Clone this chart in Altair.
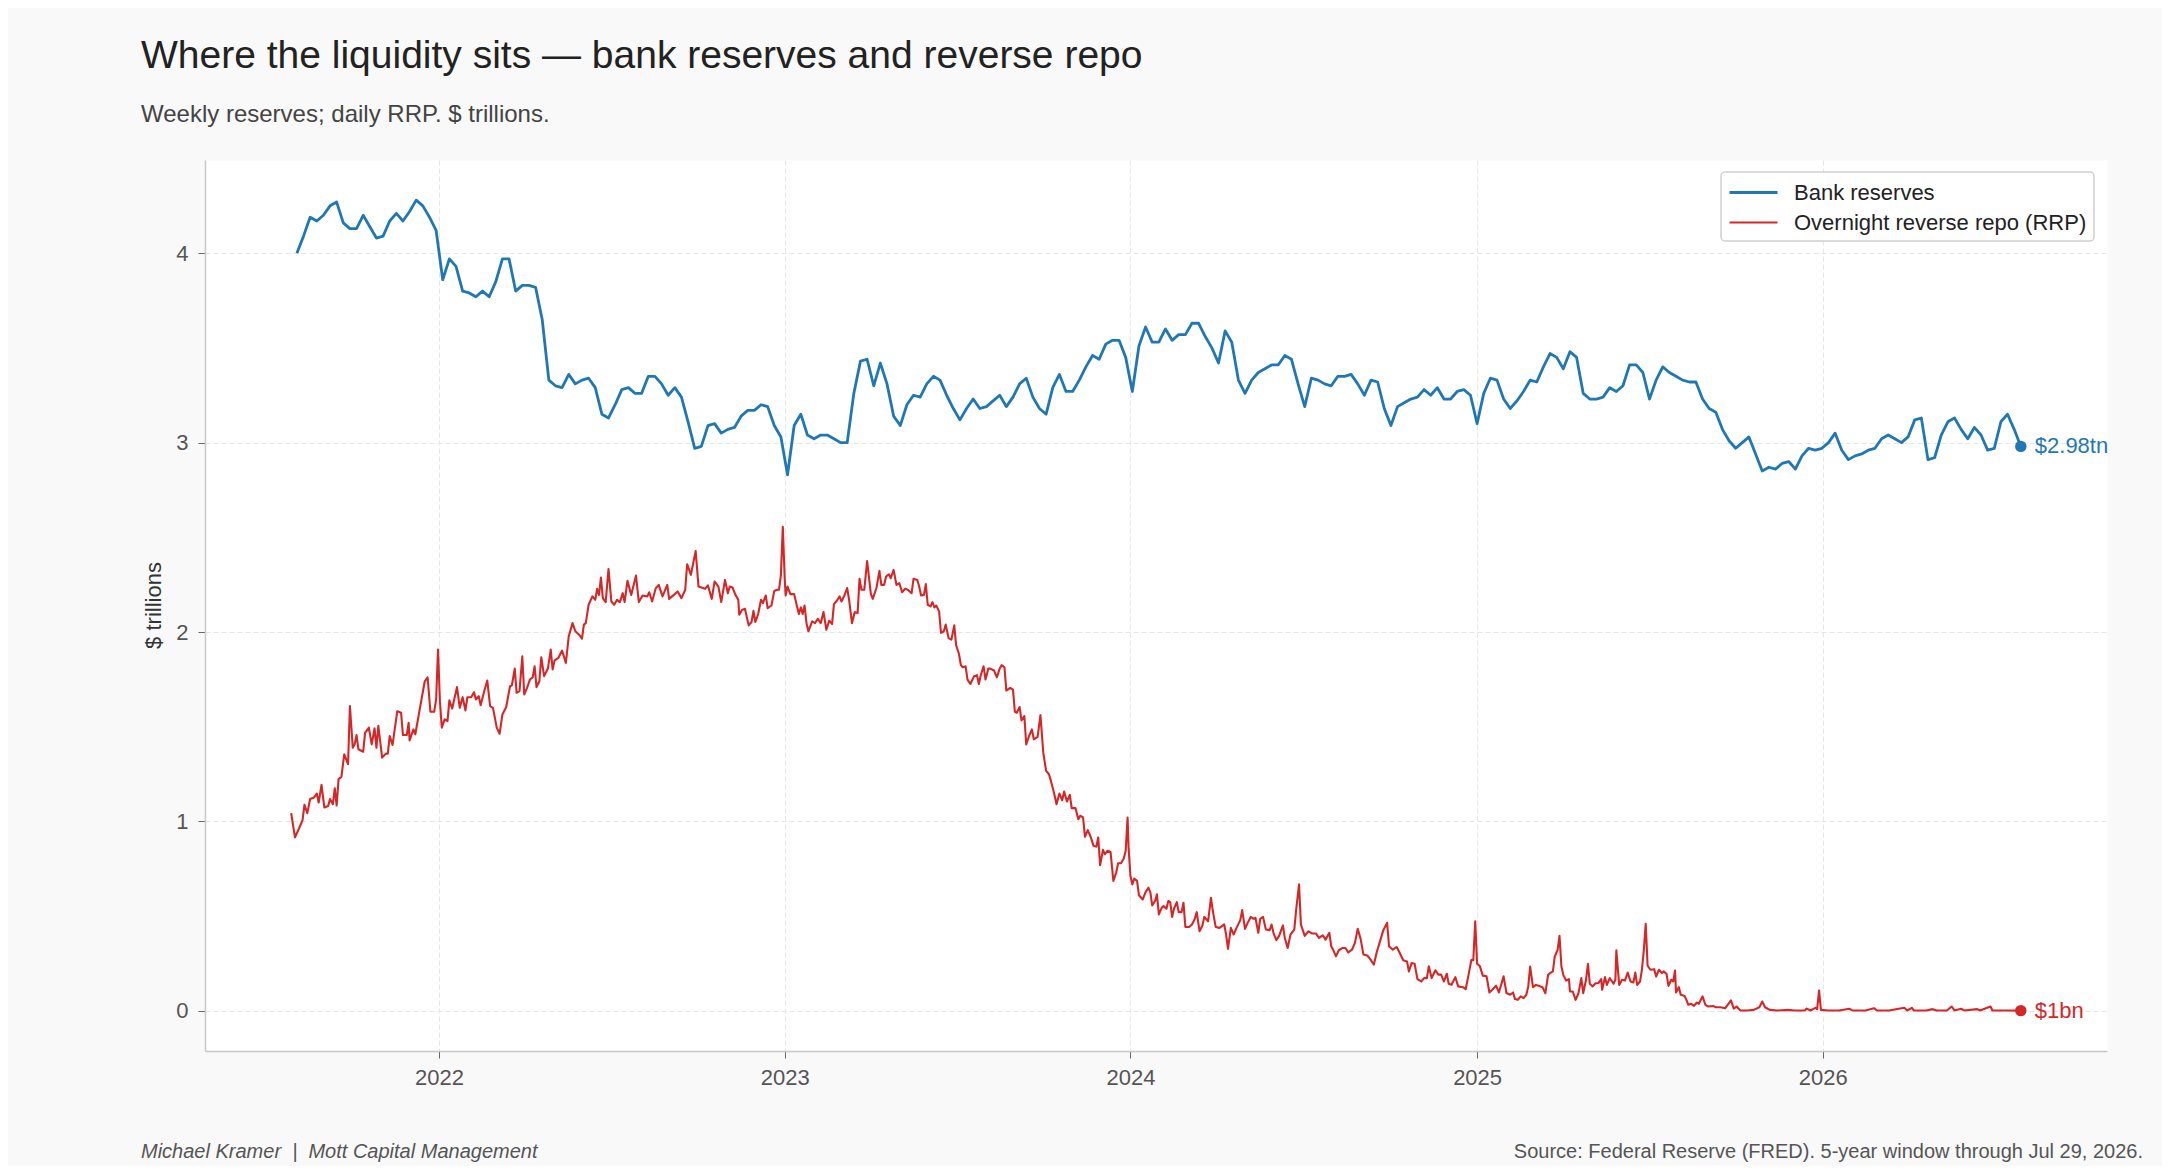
import altair as alt
import pandas as pd

FONT = "Liberation Sans"

TITLE = "Where the liquidity sits \u2014 bank reserves and reverse repo"
SUBTITLE = "Weekly reserves; daily RRP. $ trillions."
FOOT_LEFT = "Michael Kramer\u00a0\u00a0|\u00a0\u00a0Mott Capital Management"
FOOT_RIGHT = "Source: Federal Reserve (FRED). 5-year window through Jul 29, 2026."
Y_TITLE = "$ trillions"

series_names = ["Bank reserves", "Overnight reverse repo (RRP)"]
series_colors = ["#1f77b4", "#d62728"]
end_labels = ["$2.98tn", "$1bn"]
y_ticks = [0, 1, 2, 3, 4]
x_years = [2022, 2023, 2024, 2025, 2026]

# Weekly bank reserves ($tn), Wednesdays starting 2021-08-04
reserves_start = "2021-08-04"
reserves = [
    4.00, 4.09, 4.19, 4.17, 4.20, 4.25, 4.27, 4.16, 4.13, 4.13,
    4.20, 4.14, 4.08, 4.09, 4.17, 4.21, 4.17, 4.22, 4.28, 4.25,
    4.19, 4.12, 3.86, 3.97, 3.93, 3.80, 3.79, 3.77, 3.80, 3.77,
    3.85, 3.97, 3.97, 3.80, 3.83, 3.83, 3.82, 3.65, 3.33, 3.30,
    3.29, 3.36, 3.31, 3.33, 3.34, 3.29, 3.15, 3.13, 3.20, 3.28,
    3.29, 3.26, 3.26, 3.35, 3.35, 3.31, 3.25, 3.29, 3.24, 3.11,
    2.97, 2.98, 3.09, 3.10, 3.05, 3.07, 3.08, 3.14, 3.17, 3.17,
    3.20, 3.19, 3.09, 3.03, 2.83, 3.09, 3.15, 3.04, 3.02, 3.04,
    3.04, 3.02, 3.00, 3.00, 3.26, 3.43, 3.44, 3.30, 3.42, 3.31,
    3.14, 3.09, 3.20, 3.25, 3.24, 3.31, 3.35, 3.33, 3.25, 3.18,
    3.12, 3.18, 3.23, 3.18, 3.19, 3.22, 3.25, 3.19, 3.24, 3.31,
    3.34, 3.24, 3.18, 3.15, 3.29, 3.36, 3.27, 3.27, 3.33, 3.40,
    3.46, 3.44, 3.52, 3.54, 3.54, 3.45, 3.27, 3.51, 3.61, 3.53,
    3.53, 3.60, 3.54, 3.57, 3.57, 3.63, 3.63, 3.56, 3.50, 3.42,
    3.59, 3.53, 3.33, 3.26, 3.33, 3.37, 3.39, 3.41, 3.41, 3.46,
    3.44, 3.31, 3.19, 3.34, 3.33, 3.31, 3.30, 3.35, 3.35, 3.36,
    3.31, 3.25, 3.33, 3.32, 3.18, 3.09, 3.19, 3.21, 3.23, 3.24,
    3.28, 3.25, 3.29, 3.23, 3.23, 3.27, 3.28, 3.25, 3.10, 3.26,
    3.34, 3.33, 3.23, 3.18, 3.22, 3.27, 3.33, 3.32, 3.40, 3.47,
    3.45, 3.39, 3.48, 3.45, 3.26, 3.23, 3.23, 3.24, 3.29, 3.27,
    3.30, 3.41, 3.41, 3.37, 3.23, 3.33, 3.40, 3.37, 3.35, 3.33,
    3.32, 3.32, 3.23, 3.18, 3.16, 3.07, 3.01, 2.97, 3.00, 3.03,
    2.94, 2.85, 2.87, 2.86, 2.89, 2.90, 2.86, 2.93, 2.97, 2.96,
    2.97, 3.00, 3.05, 2.96, 2.91, 2.93, 2.94, 2.96, 2.97, 3.02,
    3.04, 3.02, 3.00, 3.03, 3.12, 3.13, 2.91, 2.92, 3.04, 3.11,
    3.13, 3.07, 3.02, 3.08, 3.04, 2.96, 2.97, 3.11, 3.15, 3.07,
    2.98,
]

# Overnight reverse repo ($tn): day offset from 2022-01-01 and value
rrp_base = "2022-01-01"
rrp_day = [
    -156, -152, -148, -144, -142, -139, -136, -132, -129, -127,
    -124, -121, -117, -115, -112, -110, -108, -106, -103, -100,
    -96, -94, -91, -89, -87, -85, -80, -78, -74, -71,
    -68, -66, -64, -60, -56, -54, -52, -49, -44, -40,
    -38, -34, -32, -31, -27, -25, -20, -15, -12, -9,
    -5, -3, -1, 1, 3, 6, 9, 11, 14, 19,
    22, 25, 28, 30, 34, 37, 39, 42, 44, 48,
    51, 54, 57, 61, 64, 67, 71, 75, 77, 80,
    82, 85, 88, 90, 93, 96, 99, 101, 103, 106,
    108, 111, 115, 118, 120, 122, 126, 130, 134, 137,
    141, 144, 148, 151, 153, 155, 158, 162, 165, 167,
    169, 171, 173, 176, 179, 182, 185, 188, 191, 194,
    196, 199, 203, 208, 211, 215, 220, 222, 225, 229,
    232, 236, 241, 243, 248, 252, 256, 260, 262, 266,
    271, 274, 281, 284, 288, 291, 295, 298, 302, 305,
    307, 310, 313, 316, 317, 320, 323, 327, 330, 332,
    334, 337, 340, 342, 345, 347, 351, 354, 357, 359,
    361, 363, 365, 366, 368, 371, 375, 378, 380, 382,
    384, 386, 388, 390, 394, 397, 400, 403, 406, 409,
    412, 415, 417, 420, 423, 425, 428, 431, 433, 436,
    439, 442, 444, 446, 449, 452, 456, 458, 462, 465,
    467, 470, 472, 475, 477, 480, 483, 486, 489, 492,
    495, 499, 501, 505, 507, 509, 512, 514, 516, 519,
    521, 523, 525, 528, 530, 533, 535, 538, 541, 544,
    546, 549, 551, 553, 556, 558, 561, 565, 568, 570,
    572, 575, 577, 580, 582, 586, 589, 592, 594, 597,
    599, 603, 606, 608, 610, 613, 615, 618, 620, 623,
    626, 628, 632, 635, 638, 641, 644, 646, 649, 652,
    655, 658, 660, 663, 666, 668, 672, 675, 677, 680,
    682, 685, 688, 691, 694, 696, 698, 701, 703, 706,
    709, 712, 715, 717, 720, 723, 725, 727, 728, 730,
    732, 734, 737, 739, 743, 746, 749, 751, 753, 756,
    758, 760, 763, 765, 768, 770, 772, 774, 776, 779,
    781, 784, 786, 788, 792, 795, 798, 800, 803, 806,
    808, 812, 815, 817, 820, 824, 829, 831, 833, 836,
    839, 842, 846, 848, 851, 854, 857, 860, 862, 865,
    867, 870, 873, 877, 879, 881, 884, 887, 891, 893,
    896, 899, 903, 905, 908, 910, 914, 918, 922, 926,
    929, 933, 936, 940, 942, 944, 947, 950, 954, 957,
    960, 964, 967, 970, 973, 976, 980, 983, 987, 990,
    993, 997, 1001, 1003, 1007, 1011, 1014, 1018, 1022, 1024,
    1027, 1030, 1033, 1037, 1040, 1043, 1045, 1048, 1052, 1055,
    1058, 1061, 1064, 1066, 1069, 1073, 1076, 1081, 1084, 1087,
    1090, 1092, 1094, 1096, 1099, 1102, 1106, 1109, 1112, 1116,
    1119, 1124, 1127, 1131, 1134, 1136, 1139, 1142, 1145, 1148,
    1150, 1152, 1155, 1158, 1161, 1165, 1168, 1171, 1173, 1176,
    1178, 1181, 1183, 1185, 1187, 1190, 1193, 1194, 1197, 1200,
    1203, 1206, 1208, 1211, 1213, 1215, 1218, 1221, 1224, 1227,
    1228, 1231, 1233, 1236, 1240, 1242, 1243, 1246, 1249, 1252,
    1255, 1258, 1261, 1263, 1265, 1268, 1270, 1272, 1274, 1276,
    1279, 1283, 1285, 1288, 1291, 1293, 1296, 1298, 1301, 1303,
    1305, 1306, 1309, 1311, 1315, 1317, 1319, 1322, 1325, 1328,
    1330, 1334, 1337, 1340, 1345, 1348, 1353, 1358, 1364, 1367,
    1370, 1374, 1381, 1388, 1394, 1397, 1400, 1405, 1413, 1424,
    1431, 1442, 1444, 1448, 1453, 1455, 1457, 1459, 1467, 1478,
    1489, 1492, 1506, 1515, 1518, 1531, 1547, 1550, 1555, 1557,
    1570, 1577, 1581, 1592, 1597, 1600, 1607, 1610, 1624, 1627,
    1638, 1640, 1656, 1670,
]
rrp_val = [
    1.044, 0.916, 0.960, 1.007, 1.088, 1.044, 1.118, 1.126, 1.147, 1.100,
    1.193, 1.074, 1.081, 1.118, 1.091, 1.175, 1.084, 1.223, 1.235, 1.354,
    1.302, 1.609, 1.389, 1.407, 1.456, 1.381, 1.368, 1.467, 1.495, 1.407,
    1.491, 1.389, 1.505, 1.337, 1.358, 1.358, 1.451, 1.404, 1.582, 1.574,
    1.456, 1.456, 1.521, 1.428, 1.486, 1.460, 1.600, 1.740, 1.761, 1.579,
    1.579, 1.644, 1.907, 1.635, 1.495, 1.539, 1.530, 1.639, 1.596, 1.709,
    1.600, 1.656, 1.586, 1.656, 1.656, 1.682, 1.644, 1.661, 1.614, 1.691,
    1.744, 1.609, 1.600, 1.495, 1.463, 1.565, 1.604, 1.714, 1.719, 1.807,
    1.679, 1.688, 1.872, 1.670, 1.705, 1.749, 1.761, 1.819, 1.709, 1.740,
    1.867, 1.767, 1.807, 1.907, 1.802, 1.849, 1.863, 1.902, 1.837, 1.977,
    2.047, 2.004, 1.986, 1.965, 2.039, 2.047, 2.144, 2.188, 2.170, 2.228,
    2.196, 2.288, 2.179, 2.158, 2.333, 2.161, 2.144, 2.170, 2.158, 2.205,
    2.158, 2.270, 2.196, 2.298, 2.158, 2.193, 2.188, 2.210, 2.161, 2.232,
    2.249, 2.188, 2.249, 2.175, 2.196, 2.214, 2.179, 2.223, 2.358, 2.302,
    2.428, 2.240, 2.228, 2.246, 2.175, 2.267, 2.240, 2.158, 2.275, 2.205,
    2.240, 2.235, 2.196, 2.170, 2.091, 2.117, 2.123, 2.035, 2.053, 2.112,
    2.053, 2.095, 2.170, 2.153, 2.193, 2.126, 2.140, 2.217, 2.223, 2.223,
    2.302, 2.556, 2.284, 2.193, 2.240, 2.200, 2.200, 2.135, 2.095, 2.130,
    2.095, 2.140, 2.047, 2.004, 2.056, 2.047, 2.070, 2.047, 2.105, 2.012,
    2.060, 2.042, 2.147, 2.165, 2.188, 2.161, 2.193, 2.232, 2.170, 2.047,
    2.105, 2.100, 2.281, 2.223, 2.223, 2.375, 2.200, 2.175, 2.235, 2.323,
    2.249, 2.249, 2.293, 2.305, 2.284, 2.328, 2.249, 2.258, 2.210, 2.228,
    2.223, 2.205, 2.281, 2.275, 2.240, 2.193, 2.196, 2.253, 2.144, 2.135,
    2.158, 2.130, 2.140, 2.109, 1.995, 2.004, 2.039, 1.968, 1.960, 2.035,
    1.930, 1.884, 1.825, 1.814, 1.819, 1.749, 1.726, 1.767, 1.772, 1.726,
    1.772, 1.819, 1.749, 1.807, 1.807, 1.797, 1.761, 1.807, 1.825, 1.814,
    1.691, 1.705, 1.696, 1.579, 1.574, 1.604, 1.533, 1.556, 1.407, 1.451,
    1.486, 1.433, 1.446, 1.561, 1.363, 1.267, 1.249, 1.214, 1.158, 1.091,
    1.147, 1.112, 1.158, 1.105, 1.140, 1.070, 1.070, 1.012, 1.030, 1.021,
    0.919, 0.954, 0.919, 0.872, 0.867, 0.915, 0.769, 0.850, 0.827, 0.845,
    0.839, 0.686, 0.730, 0.779, 0.779, 0.804, 0.845, 1.021, 0.867, 0.712,
    0.668, 0.698, 0.686, 0.610, 0.588, 0.627, 0.650, 0.627, 0.557, 0.580,
    0.615, 0.509, 0.544, 0.553, 0.539, 0.580, 0.574, 0.496, 0.539, 0.574,
    0.521, 0.521, 0.571, 0.443, 0.443, 0.456, 0.486, 0.521, 0.420, 0.451,
    0.496, 0.473, 0.597, 0.527, 0.443, 0.438, 0.456, 0.403, 0.327, 0.438,
    0.403, 0.438, 0.479, 0.532, 0.433, 0.467, 0.496, 0.486, 0.491, 0.412,
    0.486, 0.496, 0.429, 0.426, 0.456, 0.412, 0.373, 0.396, 0.451, 0.385,
    0.332, 0.403, 0.429, 0.535, 0.668, 0.456, 0.396, 0.420, 0.408, 0.408,
    0.385, 0.399, 0.376, 0.412, 0.341, 0.323, 0.288, 0.320, 0.332, 0.332,
    0.309, 0.323, 0.359, 0.433, 0.380, 0.297, 0.292, 0.274, 0.244, 0.309,
    0.359, 0.426, 0.465, 0.341, 0.323, 0.337, 0.309, 0.267, 0.261, 0.208,
    0.253, 0.249, 0.168, 0.155, 0.173, 0.173, 0.235, 0.173, 0.214, 0.191,
    0.191, 0.155, 0.196, 0.143, 0.138, 0.178, 0.129, 0.125, 0.115, 0.191,
    0.270, 0.267, 0.473, 0.249, 0.235, 0.186, 0.182, 0.097, 0.111, 0.133,
    0.097, 0.182, 0.094, 0.085, 0.097, 0.062, 0.058, 0.076, 0.067, 0.085,
    0.129, 0.234, 0.125, 0.137, 0.132, 0.125, 0.093, 0.190, 0.199, 0.208,
    0.287, 0.322, 0.396, 0.234, 0.190, 0.160, 0.167, 0.102, 0.102, 0.058,
    0.093, 0.173, 0.093, 0.164, 0.248, 0.143, 0.129, 0.146, 0.146, 0.167,
    0.111, 0.178, 0.137, 0.173, 0.143, 0.164, 0.319, 0.137, 0.164, 0.160,
    0.202, 0.155, 0.150, 0.202, 0.137, 0.155, 0.217, 0.319, 0.460, 0.238,
    0.217, 0.220, 0.181, 0.217, 0.199, 0.208, 0.195, 0.132, 0.164, 0.155,
    0.213, 0.097, 0.125, 0.085, 0.079, 0.058, 0.032, 0.037, 0.026, 0.044,
    0.037, 0.076, 0.032, 0.023, 0.026, 0.019, 0.019, 0.014, 0.055, 0.012,
    0.023, 0.002, 0.002, 0.005, 0.019, 0.049, 0.019, 0.005, 0.002, 0.005,
    0.002, 0.002, 0.012, 0.002, 0.016, 0.009, 0.107, 0.005, 0.002, 0.002,
    0.011, 0.002, 0.002, 0.014, 0.002, 0.002, 0.016, 0.002, 0.016, 0.002,
    0.002, 0.009, 0.002, 0.002, 0.023, 0.002, 0.011, 0.002, 0.009, 0.002,
    0.023, 0.002, 0.002, 0.001,
]

# ---- tables built from the arrays above ----
res_dates = pd.date_range(reserves_start, periods=len(reserves), freq="7D")
df_res = pd.DataFrame({
    "date": res_dates.strftime("%Y-%m-%d"),
    "value": reserves,
    "series": series_names[0],
})
rrp_dates = pd.Timestamp(rrp_base) + pd.to_timedelta(rrp_day, unit="D")
df_rrp = pd.DataFrame({
    "date": rrp_dates.strftime("%Y-%m-%d"),
    "value": rrp_val,
    "series": series_names[1],
})
df_lines = pd.concat([df_res, df_rrp], ignore_index=True)

df_end = pd.DataFrame({
    "date": [df_res["date"].iloc[-1], df_rrp["date"].iloc[-1]],
    "value": [reserves[-1], rrp_val[-1]],
    "label": end_labels,
    "color": series_colors,
})

W, H = 1902, 891

x_enc = alt.X(
    "date:T",
    scale=alt.Scale(
        type="utc",
        domain=[alt.DateTime(year=2021, month=4, date=29, utc=True),
                alt.DateTime(year=2026, month=10, date=28, utc=True)],
        nice=False,
    ),
    axis=alt.Axis(
        title=None,
        values=[alt.DateTime(year=y, month=1, date=1, utc=True) for y in x_years],
        format="%Y",
        labelPadding=9,
    ),
)
y_enc = alt.Y(
    "value:Q",
    scale=alt.Scale(domain=[-0.212, 4.492], nice=False, zero=False),
    axis=alt.Axis(
        values=y_ticks,
        format="d",
        title=Y_TITLE,
        titleX=-52,
        titleY=445,
        titleAngle=270,
        titleAlign="center",
        titleBaseline="middle",
        titleFontSize=22,
        titleFontWeight="normal",
        titleColor="#333333",
        titleFont=FONT,
        labelPadding=10,
    ),
)

lines = alt.Chart(df_lines).mark_line(strokeJoin="round").encode(
    x=x_enc,
    y=y_enc,
    color=alt.Color(
        "series:N",
        scale=alt.Scale(domain=series_names, range=series_colors),
        legend=alt.Legend(
            title=None,
            orient="none",
            legendX=1516,
            legendY=12,
            direction="vertical",
        ),
    ),
    strokeWidth=alt.StrokeWidth(
        "series:N",
        scale=alt.Scale(domain=series_names, range=[2.8, 2.1]),
        legend=None,
    ),
    order=alt.Order("date:T"),
)

dots = alt.Chart(df_end).mark_circle(size=130, opacity=1).encode(
    x="date:T",
    y="value:Q",
    color=alt.Color("color:N", scale=None),
)

end_text = alt.Chart(df_end).mark_text(
    align="left", baseline="middle", dx=14, fontSize=22, font=FONT
).encode(
    x="date:T",
    y="value:Q",
    text="label:N",
    color=alt.Color("color:N", scale=None),
)


def text_layer(txt, x, y, size, color, align="left", italic=False):
    return alt.Chart(pd.DataFrame({"t": [txt]})).mark_text(
        align=align,
        baseline="alphabetic",
        fontSize=size,
        font=FONT,
        color=color,
        fontStyle="italic" if italic else "normal",
    ).encode(x=alt.value(x), y=alt.value(y), text="t:N")


title_l = text_layer(TITLE, -64, -92, 39, "#222222")
subtitle_l = text_layer(SUBTITLE, -64, -38, 24, "#444444")
foot_l = text_layer(FOOT_LEFT, -64, 998, 20, "#555555", italic=True)
foot_r = text_layer(FOOT_RIGHT, 1938, 998, 20, "#555555", align="right")

chart = alt.layer(
    lines, dots, end_text, title_l, subtitle_l, foot_l, foot_r
).properties(
    width=W,
    height=H,
    autosize=alt.AutoSizeParams(type="none"),
    padding={"left": 197, "top": 152, "right": 55, "bottom": 115},
    background="#f9f9f9",
).configure_view(
    fill="white",
    stroke="transparent",
).configure_axis(
    labelFont=FONT,
    labelFontSize=22,
    labelColor="#555555",
    tickColor="#666666",
    tickSize=7,
    tickWidth=1,
    domainColor="#c8c8c8",
    domainWidth=1.5,
    gridColor="#e6e6e6",
    gridDash=[5, 3],
    gridWidth=1,
).configure_legend(
    labelFont=FONT,
    labelFontSize=22,
    labelColor="#222222",
    labelLimit=600,
    labelOffset=39,
    symbolType="M-1,0L3,0",
    symbolSize=576,
    symbolStrokeWidth=3,
    rowPadding=5,
    padding=7,
    fillColor="white",
    strokeColor="#d0d0d0",
    strokeWidth=1.5,
    cornerRadius=4,
)

chart.save("out.html", embed_options={"renderer": "svg", "actions": False})
